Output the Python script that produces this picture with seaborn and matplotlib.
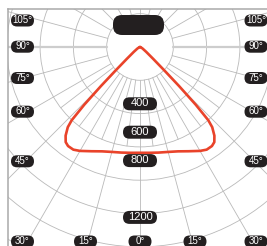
import numpy as np
import pandas as pd
import matplotlib.pyplot as plt
import seaborn as sns
from matplotlib.patches import Circle, FancyBboxPatch

sns.set_style("white")
plt.rcParams["font.family"] = ["Liberation Sans", "DejaVu Sans"]

# ---------- data ----------
# luminous intensity (cd) per angle, 0 deg = straight down, curve is symmetric
angles_deg = [0, 5, 10, 15, 20, 25, 30, 33, 36, 38, 40, 42, 43, 44, 45, 46,
              48, 52, 60, 70, 80, 90, 105, 120, 135, 150, 165, 180]
intensity_cd = [745, 748, 755, 765, 782, 810, 845, 862, 862, 850, 815, 760,
                705, 565, 390, 250, 125, 55, 20, 5, 0, 0, 0, 0, 0, 0, 0, 0]

ring_labels = [400, 600, 800, 1200]
side_labels = ["105°", "90°", "75°", "60°", "45°"]
bottom_labels = ["30°", "15°", "0°", "15°", "30°"]

# ---------- layout (pixels of the 267x246 picture) ----------
W, H = 267, 246
CX, CY = 140, 47          # polar origin (lamp)
K = 0.142                 # px per cd
RING_PX = 33.3            # grid ring spacing
FRAME_X, FRAME_Y = 8, 9
side_y = [20.5, 46.7, 78, 111.7, 161.3]
side_x = [22.5, 256]
bottom_x = [22.5, 85.5, 140, 195, 256]
bottom_y = 241.5

GRID = "#b9b9b9"
DARK = "#231f20"
RED = "#e9432a"


def px(x, y):
    """picture pixel -> data (cd) coordinates"""
    return (x - CX) / K, (CY - y) / K


fig = plt.figure(figsize=(W / 100, H / 100), dpi=100)
ax = fig.add_axes([FRAME_X / W, 0, (W - FRAME_X) / W, (H - FRAME_Y) / H])
x0, y1 = px(FRAME_X, FRAME_Y)
x1, y0 = px(W, H)
ax.set_xlim(x0, x1)
ax.set_ylim(y0, y1)
ax.set_xticks([])
ax.set_yticks([])
for side in ["right", "bottom"]:
    ax.spines[side].set_visible(False)
for side in ["top", "left"]:
    ax.spines[side].set_color("#a9a9a9")
    ax.spines[side].set_linewidth(1.1)

# ---------- polar grid ----------
ring = RING_PX / K
for n in range(1, 9):
    ax.add_patch(Circle((0, 0), n * ring, fill=False, ec=GRID, lw=0.6, zorder=1))

for a in np.arange(0, 360, 15):
    t = np.radians(a)
    lw, col = (1.6, "#cdcdcd") if a in (90, 270) else (0.6, GRID)
    ax.plot([ring * np.sin(t), 9 * ring * np.sin(t)],
            [-ring * np.cos(t), -9 * ring * np.cos(t)], color=col, lw=lw, zorder=1)
for a in np.arange(-52.5, 53, 15):
    t = np.radians(a)
    ax.plot([ring * np.sin(t), 3 * ring * np.sin(t)],
            [-ring * np.cos(t), -3 * ring * np.cos(t)], color=GRID, lw=0.6, zorder=1)

# ---------- intensity curve ----------
half = pd.DataFrame({"angle": angles_deg, "cd": intensity_cd})
full = pd.concat([half.iloc[::-1].assign(angle=lambda d: -d["angle"]), half.iloc[1:]])
t = np.radians(full["angle"].to_numpy())
full["x"] = full["cd"] * np.sin(t)
full["y"] = -full["cd"] * np.cos(t)
sns.lineplot(data=full, x="x", y="y", sort=False, estimator=None, color=RED,
             lw=1.9, ax=ax, legend=False, zorder=3,
             solid_joinstyle="round", solid_capstyle="round")
ax.set_xlabel("")
ax.set_ylabel("")


# ---------- labels ----------
def tag(xd, yd, text, w_px, h_px, size):
    w, h = w_px / K, h_px / K
    ax.add_patch(FancyBboxPatch((xd - w / 2, yd - h / 2), w, h,
                                boxstyle=f"round,pad=0,rounding_size={h / 2}",
                                fc=DARK, ec="none", zorder=4, clip_on=False))
    ax.text(xd, yd + 0.4 / K, text, ha="center", va="center", color="white",
            fontsize=size, zorder=5, clip_on=False)


# lamp
lx, ly = px(113, 35)
ax.add_patch(FancyBboxPatch((lx, ly), 51 / K, 20 / K,
                            boxstyle=f"round,pad=0,rounding_size={9 / K}",
                            fc=DARK, ec="none", zorder=4))

for v in ring_labels:
    tag(0, -v, str(v), 34, 13, 8)

for lab, y in zip(side_labels, side_y):
    for x in side_x:
        tag(*px(x, y), lab, 23, 12, 7)

for lab, x in zip(bottom_labels, bottom_x):
    tag(*px(x, bottom_y), lab, 23, 12, 7)

fig.savefig("out.png", dpi=100)
